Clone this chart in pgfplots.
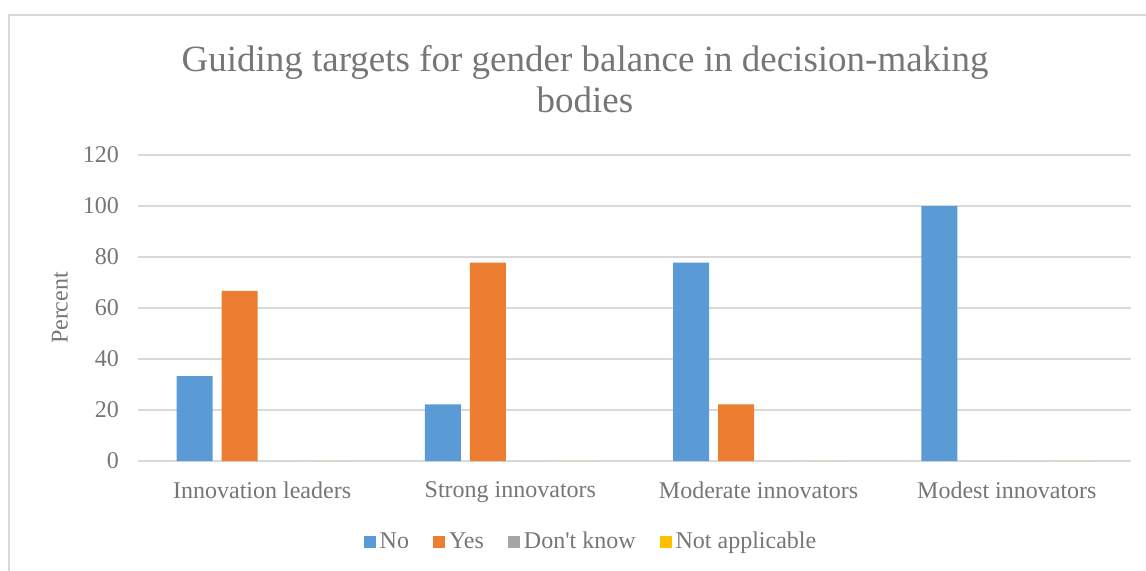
\documentclass[border=0pt]{standalone}
\usepackage{pgfplots}
\pgfplotsset{compat=1.18}
\usepackage{fontspec}
\setmainfont{Liberation Serif}
\definecolor{cNo}{HTML}{5B9BD5}
\definecolor{cYes}{HTML}{ED7D31}
\definecolor{cDK}{HTML}{A5A5A5}
\definecolor{cNA}{HTML}{FFC000}
\definecolor{txt}{HTML}{767676}
\definecolor{gridc}{HTML}{D9D9D9}
\begin{document}
\begin{tikzpicture}
\useasboundingbox (-69pt,-54.5pt) rectangle (504pt,230.5pt);
\draw[gridc, line width=0.75pt] (-64.5pt,-70pt) -- (-64.5pt,223pt) -- (520pt,223pt);
\begin{axis}[
  scale only axis,
  width=496.5pt, height=153pt,
  xmin=-0.5, xmax=3.5,
  ymin=0, ymax=120,
  ytick={0,20,...,120},
  xtick={0,1,2,3},
  xticklabels={Innovation leaders,Strong innovators,Moderate innovators,Modest innovators},
  axis line style={draw=none},
  major tick length=0pt,
  ymajorgrids,
  grid style={gridc, line width=0.75pt},
  ybar,
  bar width=18pt,
  tick label style={font=\fontsize{12}{14}\selectfont, text=txt},
  /pgf/number format/assume math mode=true,
  yticklabel style={xshift=-6pt},
  xticklabel style={yshift=-7pt},
  ylabel={Percent},
  every axis y label/.style={at={(axis description cs:-0.0786,0.5)}, rotate=90, anchor=center, font=\fontsize{12}{14}\selectfont, text=txt},
  legend columns=4,
  legend style={at={(axis description cs:0.4572,-0.265)}, anchor=center, draw=none, fill=none,
    font=\fontsize{12}{14}\selectfont, text=txt, column sep=0pt,
    /tikz/every even column/.append style={column sep=10pt},
    nodes={inner xsep=2pt, inner ysep=1pt}},
  legend image code/.code={\fill[#1] (0pt,-3pt) rectangle (6pt,3pt);},
]
\addplot[fill=cNo, draw=none, bar shift=-33.75pt] coordinates {(0,33.3) (1,22.2) (2,77.8) (3,100)};
\addplot[fill=cYes, draw=none, bar shift=-11.25pt] coordinates {(0,66.7) (1,77.8) (2,22.2) (3,0)};
\addplot[fill=cDK, draw=none, bar shift=11.25pt] coordinates {(0,0) (1,0) (2,0) (3,0)};
\addplot[fill=cNA, draw=none, bar shift=33.75pt] coordinates {(0,0) (1,0) (2,0) (3,0)};
\legend{No,Yes,Don\textquotesingle t know,Not applicable}
\end{axis}
\node[anchor=base, text=txt, font=\fontsize{18.5}{20.5}\selectfont] at (223.5pt,195pt) {Guiding targets for gender balance in decision-making};
\node[anchor=base, text=txt, font=\fontsize{18.5}{20.5}\selectfont] at (223.5pt,174.5pt) {bodies};
\end{tikzpicture}
\end{document}
